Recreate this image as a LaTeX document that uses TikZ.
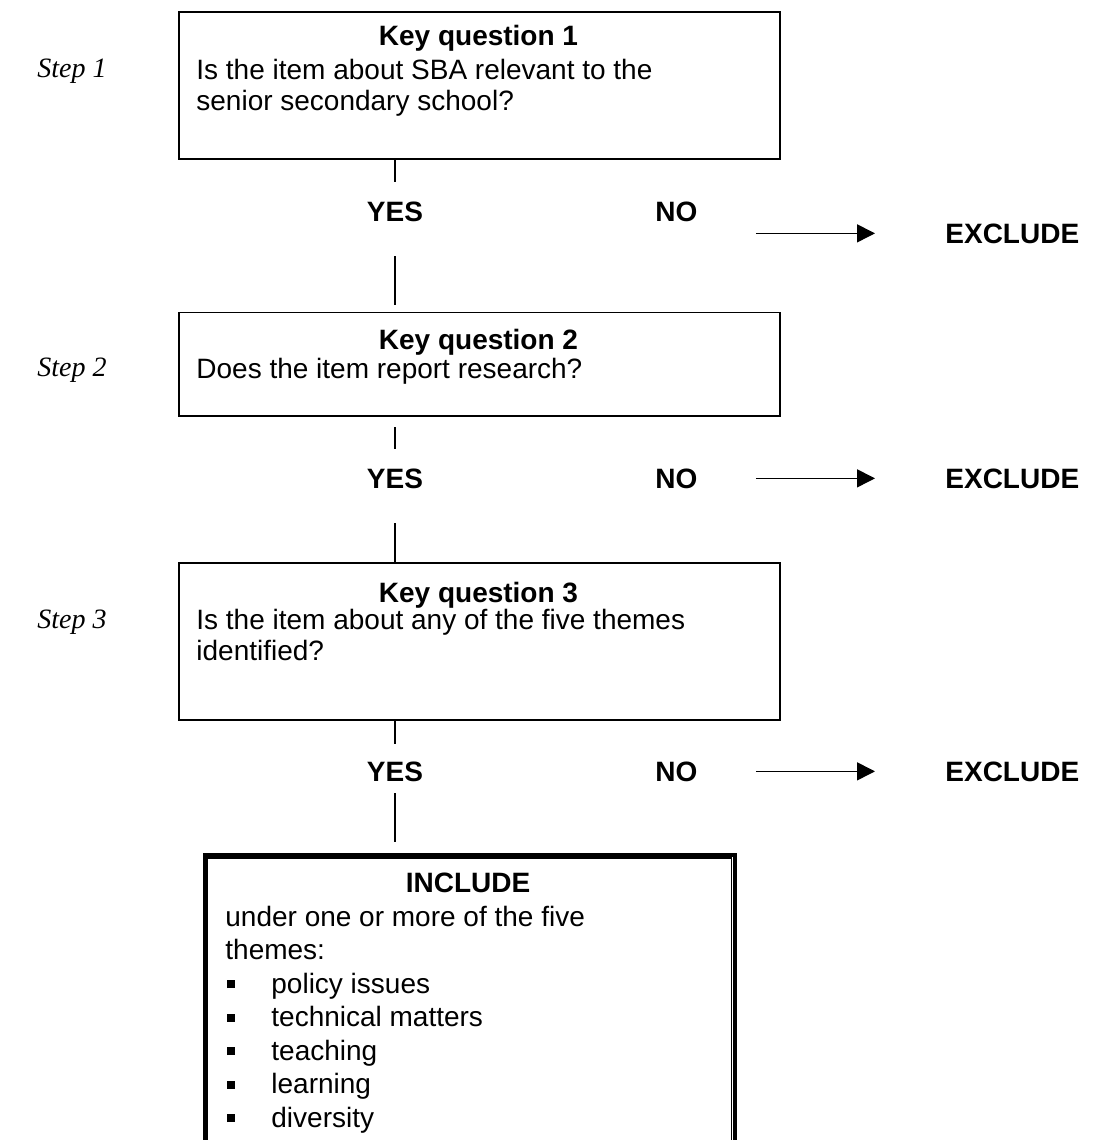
\documentclass[tikz,border=0pt]{standalone}
\usepackage{fontspec}
\setmainfont{Liberation Sans}
\newfontfamily\stepfont{Liberation Serif}
\usetikzlibrary{arrows.meta}
\newcommand{\sqbullet}{\makebox[23pt][l]{\hspace{1pt}\rule[2.5pt]{4pt}{4pt}}}

\begin{document}
\begin{tikzpicture}[x=0.5pt,y=-0.5pt,
    font=\fontsize{14}{15.5}\selectfont,
    qbox/.style={draw,line width=0.9pt,anchor=north west,minimum width=300.5pt,inner sep=0pt},
    incbox/.style={draw,line width=2pt,anchor=north west,minimum width=265pt,minimum height=200pt,inner sep=0pt},
    head/.style={font=\fontsize{14}{15.5}\selectfont\bfseries,anchor=base,inner sep=0pt},
    body/.style={align=left,anchor=base west,inner sep=0pt},
    steplabel/.style={font=\fontsize{14}{15.5}\selectfont\stepfont\itshape,anchor=base west,inner sep=0pt},
    answer/.style={font=\fontsize{14}{15.5}\selectfont\bfseries,inner sep=0pt},
    link/.style={line width=0.75pt},
    outarrow/.style={line width=0.75pt,-{Triangle[length=9pt,width=9pt]},shorten <=29pt,shorten >=35pt}]
        \useasboundingbox (0,0) rectangle (1093,1140);
        \clip (0,0) rectangle (1093,1140);
        % Steps
        \node[steplabel] (s1) at (37,77) {Step 1};
        \node[steplabel] (s2) at (37,376) {Step 2};
        \node[steplabel] (s3) at (37,628) {Step 3};
        % Question 1 (body placed by its last baseline)
        \node[qbox,minimum height=73.5pt] (q1) at (178,11) {};
        \node[head] (q1h) at (478.5,46) {Key question 1};
        \node[body] (q1b) at (196,110) {Is the item about SBA relevant to the\\senior secondary school?};
        % Question 2
        \node[qbox,minimum height=51.7pt] (q2) at (178,311.5) {};
        \node[head] (q2h) at (478.5,349.5) {Key question 2};
        \node[body] (q2b) at (196,378) {Does the item report research?};
        % Question 3
        \node[qbox,minimum height=78.5pt] (q3) at (178,562) {};
        \node[head] (q3h) at (478.5,602) {Key question 3};
        \node[body] (q3b) at (196,660) {Is the item about any of the five themes\\identified?};
        % Answers
        \node[answer,anchor=base] (yes1) at (395,221) {YES};
        \node[answer,anchor=base west] (no1) at (655,221) {NO};
        \node[answer,anchor=base west] (ex1) at (945,243) {EXCLUDE};
        \node[answer,anchor=base] (yes2) at (395,488) {YES};
        \node[answer,anchor=base west] (no2) at (655,488) {NO};
        \node[answer,anchor=base west] (ex2) at (945,488) {EXCLUDE};
        \node[answer,anchor=base] (yes3) at (395,781) {YES};
        \node[answer,anchor=base west] (no3) at (655,781) {NO};
        \node[answer,anchor=base west] (ex3) at (945,781) {EXCLUDE};
        % Include
        \node[incbox] (inc) at (202.5,853) {};
        \draw[line width=0.75pt] ([shift={(5,5)}]inc.north west) rectangle ([shift={(-5,-5)}]inc.south east);
        \node[head] (inch) at (468,892) {INCLUDE};
        \node[body,font=\fontsize{14}{16.75}\selectfont] (incb) at (225,1127) {under one or more of the five\\themes:\\\sqbullet policy issues\\\sqbullet technical matters\\\sqbullet teaching\\\sqbullet learning\\\sqbullet diversity};
        % Links
        \coordinate (c1a) at (395,182);
        \coordinate (c1b) at (395,256);
        \coordinate (c1c) at (395,305);
        \coordinate (c2a) at (395,427);
        \coordinate (c2b) at (395,449);
        \coordinate (c2c) at (395,523);
        \coordinate (c3a) at (395,744);
        \coordinate (c3b) at (395,793);
        \coordinate (c3c) at (395,842);
        \draw[link] (q1.south -| yes1) -- (c1a);
        \draw[link] (c1b) -- (c1c);
        \draw[link] (c2a) -- (c2b);
        \draw[link] (c2c) -- (q3.north -| yes2);
        \draw[link] (q3.south -| yes3) -- (c3a);
        \draw[link] (c3b) -- (c3c);
        % No
        \draw[outarrow] (ex1.west -| no1.east) -- (ex1.west);
        \draw[outarrow] (ex2.west -| no2.east) -- (ex2.west);
        \draw[outarrow] (ex3.west -| no3.east) -- (ex3.west);
    \end{tikzpicture}
\end{document}
